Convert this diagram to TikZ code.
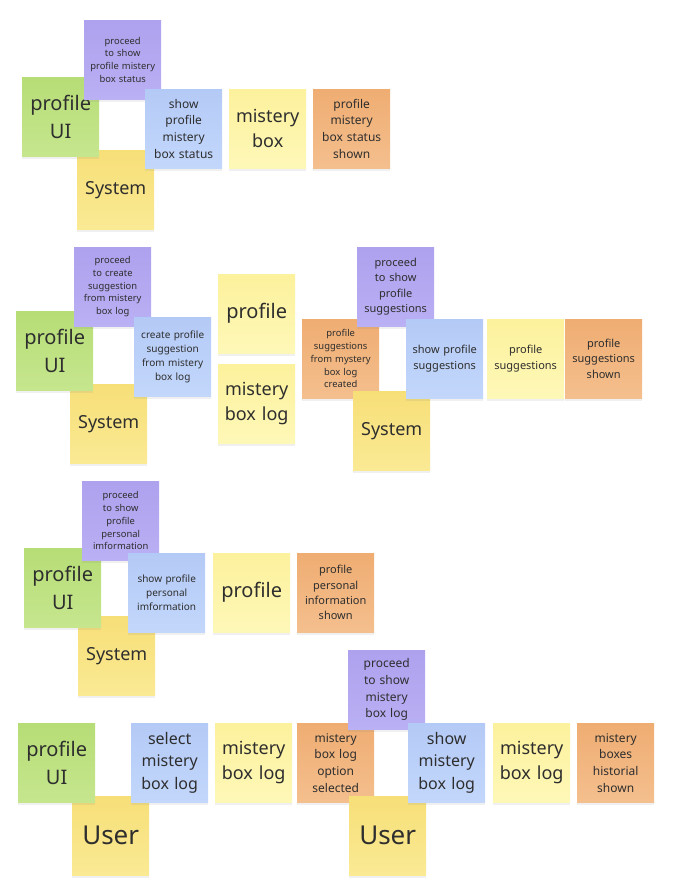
\documentclass[tikz,border=0pt]{standalone}
\usepackage{fontspec}
\setmainfont{Noto Sans}
\usetikzlibrary{shadows}
\definecolor{ink}{HTML}{2E2E2E}
\definecolor{uitop}{HTML}{B6DD76}\definecolor{uibot}{HTML}{C6E68E}
\definecolor{actortop}{HTML}{F7DF78}\definecolor{actorbot}{HTML}{FAEA94}
\definecolor{poltop}{HTML}{AEA1EE}\definecolor{polbot}{HTML}{BAB0F4}
\definecolor{cmdtop}{HTML}{B4CAF6}\definecolor{cmdbot}{HTML}{C3D7FB}
\definecolor{aggtop}{HTML}{FCF19C}\definecolor{aggbot}{HTML}{FEF8B8}
\definecolor{evttop}{HTML}{EFAD72}\definecolor{evtbot}{HTML}{F4BF8E}
\newcommand\sticky[4]{\node(#1)[#2] at (#3) {#4};}

\begin{document}
\begin{tikzpicture}[x=1pt,y=-1pt,
    note/.style={anchor=north west,text width=70pt,inner sep=3.5pt,minimum height=79pt,
        align=center,text=ink,drop shadow={shadow xshift=0pt,shadow yshift=-3pt,opacity=.12}},
    uiview/.style={note,top color=uitop,bottom color=uibot},
    actor/.style={note,top color=actortop,bottom color=actorbot},
    policy/.style={note,top color=poltop,bottom color=polbot},
    command/.style={note,top color=cmdtop,bottom color=cmdbot},
    aggregate/.style={note,top color=aggtop,bottom color=aggbot},
    event/.style={note,top color=evttop,bottom color=evtbot},
    fs9/.style={font=\fontsize{9.4}{12.8}\selectfont},
    fs10/.style={font=\fontsize{10}{14}\selectfont},
    fs11/.style={font=\fontsize{11}{15.3}\selectfont},
    fs12/.style={font=\fontsize{12}{16.7}\selectfont},
    fs16/.style={font=\fontsize{16}{22.4}\selectfont},
    fs18/.style={font=\fontsize{18}{25}\selectfont},
    fs20/.style={font=\fontsize{20}{28}\selectfont},
    fs26/.style={font=\fontsize{26}{36}\selectfont}]
    \useasboundingbox (0,0) rectangle (692,880);
    \sticky{sys1}{actor,fs18}{77,150}{System}
    \sticky{ui1}{uiview,fs20}{22,77}{profile\\UI}
    \sticky{pol1}{policy,fs9}{84,20}{proceed\\to show\\profile mistery\\box status}
    \sticky{cmd1}{command,fs12}{145,89}{show\\profile\\mistery\\box status}
    \sticky{agg1}{aggregate,fs18}{229,89}{mistery\\box}
    \sticky{evt1}{event,fs12}{313,89}{profile\\mistery\\box status\\shown}

    \sticky{sys2}{actor,fs18}{70,384}{System}
    \sticky{ui2}{uiview,fs20}{16,311}{profile\\UI}
    \sticky{pol2}{policy,fs9}{74,247}{proceed\\to create\\suggestion\\from mistery\\box log}
    \sticky{cmd2}{command,fs10}{134,317}{create profile\\suggestion\\from mistery\\box log}
    \sticky{agg2}{aggregate,fs20}{218,274}{profile}
    \sticky{agg3}{aggregate,fs18}{218,364}{mistery\\box log}
    \sticky{evt2}{event,fs9}{302,319}{profile\\suggestions\\from mystery\\box log\\created}
    \sticky{pol3}{policy,fs11}{357,247}{proceed\\to show\\profile\\suggestions}
    \sticky{sys3}{actor,fs18}{353,391}{System}
    \sticky{cmd3}{command,fs11}{406,319}{show profile\\suggestions}
    \sticky{agg4}{aggregate,fs11}{487,319}{profile\\suggestions}
    \sticky{evt3}{event,fs11}{565,319}{profile\\suggestions\\shown}

    \sticky{sys4}{actor,fs18}{78,616}{System}
    \sticky{ui3}{uiview,fs20}{24,548}{profile\\UI}
    \sticky{pol4}{policy,fs9}{82,481}{proceed\\to show\\profile\\personal\\imformation}
    \sticky{cmd4}{command,fs10}{128,553}{show profile\\personal\\imformation}
    \sticky{agg5}{aggregate,fs20}{213,553}{profile}
    \sticky{evt4}{event,fs11}{297,553}{profile\\personal\\information\\shown}

    \sticky{user1}{actor,fs26}{72,796}{User}
    \sticky{ui4}{uiview,fs20}{18,723}{profile\\UI}
    \sticky{cmd5}{command,fs16}{131,723}{select\\mistery\\box log}
    \sticky{agg6}{aggregate,fs18}{215,723}{mistery\\box log}
    \sticky{evt5}{event,fs12}{297,723}{mistery\\box log\\option\\selected}
    \sticky{pol5}{policy,fs12}{348,650}{proceed\\to show\\mistery\\box log}
    \sticky{user2}{actor,fs26}{349,796}{User}
    \sticky{cmd6}{command,fs16}{408,723}{show\\mistery\\box log}
    \sticky{agg7}{aggregate,fs18}{493,723}{mistery\\box log}
    \sticky{evt6}{event,fs12}{577,723}{mistery\\boxes\\historial\\shown}
\end{tikzpicture}
\end{document}
